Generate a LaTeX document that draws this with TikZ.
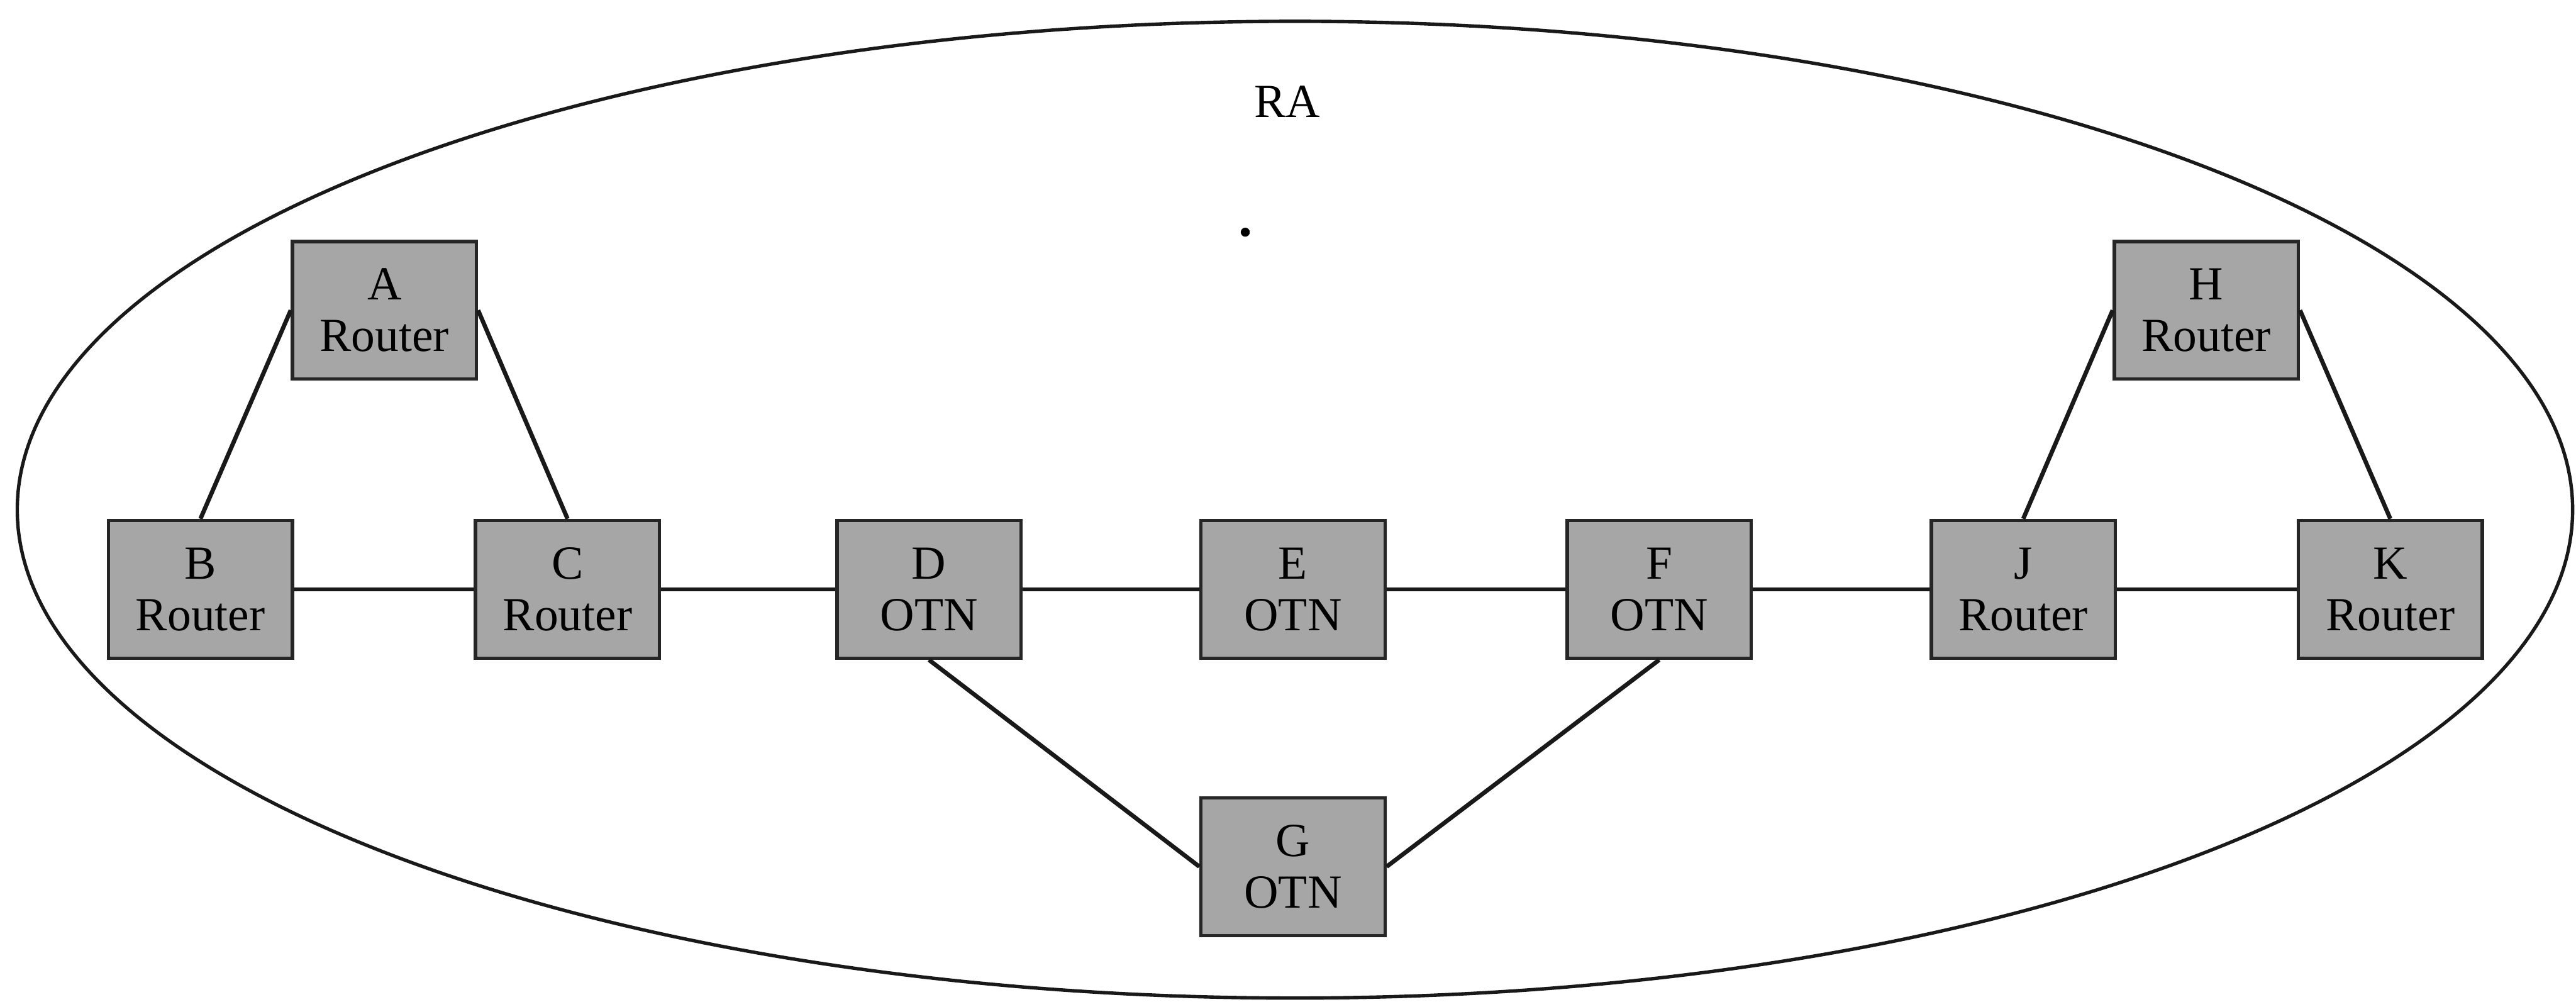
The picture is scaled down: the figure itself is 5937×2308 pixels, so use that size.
\documentclass[tikz,border=0pt]{standalone}
\usepackage{fontspec}
\setmainfont{Liberation Serif}
\definecolor{boxgray}{RGB}{166,166,166}
\begin{document}
\begin{tikzpicture}[x=0.003369cm,y=-0.003369cm,
  dev/.style={draw=black!85, line width=0.75pt, fill=boxgray, minimum width=1.43cm, minimum height=1.07cm, inner sep=0pt, align=center, font=\fontsize{10.5}{11.4}\selectfont},
  link/.style={line width=0.95pt, draw=black!90},
  region/.style={line width=0.75pt, draw=black!90}]
\useasboundingbox (0,0) rectangle (5937,2308);
\draw[region] (2984.5,1174.5) ellipse [x radius=9.930cm, y radius=3.795cm];
\node[anchor=base, font=\fontsize{10.5}{12}\selectfont] (RA) at (2967,270) {RA};
\fill (2870,535) circle [radius=0.035cm];
\node[dev] (A) at (886,715) {A\\Router};
\node[dev] (H) at (5085,715) {H\\Router};
\node[dev] (B) at (462,1358) {B\\Router};
\node[dev] (C) at (1308,1358) {C\\Router};
\node[dev] (D) at (2141,1358) {D\\OTN};
\node[dev] (E) at (2980,1358) {E\\OTN};
\node[dev] (F) at (3824,1358) {F\\OTN};
\node[dev] (J) at (4663,1358) {J\\Router};
\node[dev] (K) at (5509,1358) {K\\Router};
\node[dev] (G) at (2980,1997) {G\\OTN};
\draw[link] (A.west) -- (B.north);
\draw[link] (A.east) -- (C.north);
\draw[link] (H.west) -- (J.north);
\draw[link] (H.east) -- (K.north);
\draw[link] (B.east) -- (C.west);
\draw[link] (C.east) -- (D.west);
\draw[link] (D.east) -- (E.west);
\draw[link] (E.east) -- (F.west);
\draw[link] (F.east) -- (J.west);
\draw[link] (J.east) -- (K.west);
\draw[link] (D.south) -- (G.west);
\draw[link] (F.south) -- (G.east);
\end{tikzpicture}
\end{document}
